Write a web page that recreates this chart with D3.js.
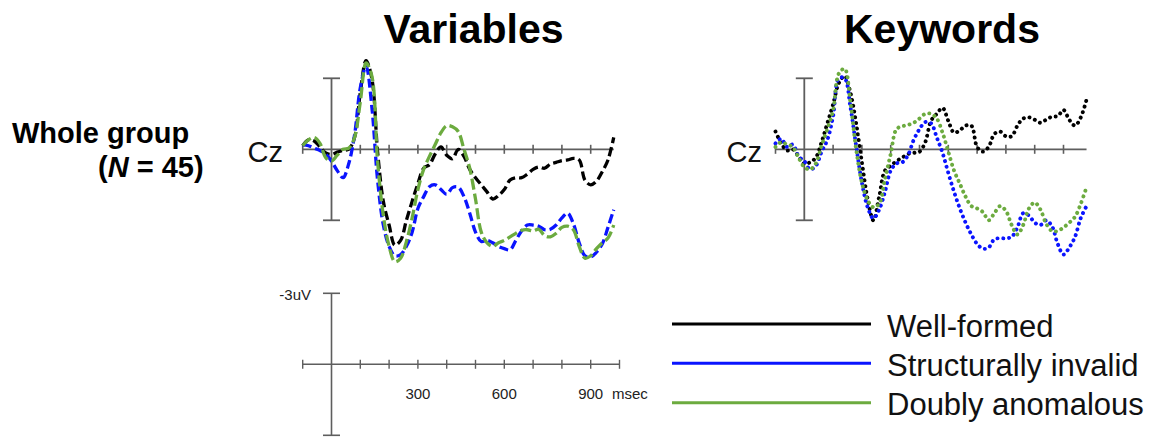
<!DOCTYPE html>
<html>
<head>
<meta charset="utf-8">
<script src="https://cdn.jsdelivr.net/npm/d3@7"></script>
<style>
  body { margin: 0; background: #fff; }
  svg { display: block; font-family: "Liberation Sans", Arial, sans-serif; }
</style>
</head>
<body>
<svg id="chart" width="1164" height="437"></svg>
<script>
// Sample times (ms) of the grand-average waveforms at electrode Cz
const times = [-100, -80, -60, -40, -20, 0, 20, 40, 60, 80,
  100, 120, 140, 160, 180, 200, 220, 240, 260, 280,
  300, 320, 340, 360, 380, 400, 420, 440, 460, 480,
  500, 520, 540, 560, 580, 600, 620, 640, 660, 680,
  700, 720, 740, 760, 780, 800, 820, 840, 860, 880,
  900, 920, 940, 960, 980];

// Amplitudes in microvolts (negative plotted up)
const variablesWellFormed = [-0.15, -0.4, -0.35, -0.1, 0.15, 0.22, 0.12, 0.05, 0.0, -0.5,
  -2.4, -3.75, -3.0, 0.1, 2.2, 3.2, 4.05, 3.85, 3.0, 2.2,
  1.45, 0.8, 0.65, 0.2, -0.1, 0.25, 0.4, 0.0, 0.3, 0.85,
  1.2, 1.5, 1.8, 2.1, 1.95, 1.7, 1.3, 1.2, 1.2, 1.05,
  0.85, 0.75, 0.8, 0.62, 0.55, 0.48, 0.45, 0.38, 0.45, 1.3,
  1.5, 1.35, 0.95, 0.45, -0.5];
const variablesInvalid = [-0.2, -0.15, -0.05, 0.05, 0.2, 0.5, 0.9, 1.2, 0.6, -0.6,
  -2.6, -3.5, -1.8, 1.3, 3.2, 4.1, 4.5, 4.45, 4.1, 3.5,
  2.5, 2.0, 1.58, 1.5, 1.7, 1.9, 1.62, 1.6, 2.0, 2.7,
  3.5, 3.9, 3.85, 3.95, 4.11, 4.2, 4.25, 3.85, 3.45, 3.2,
  3.2, 3.25, 3.4, 3.38, 3.2, 2.9, 2.7, 3.15, 3.95, 4.5,
  4.55, 4.35, 4.0, 3.3, 2.55];
const variablesDoubly = [-0.15, -0.4, -0.5, -0.25, 0.35, 0.5, 0.25, 0.0, -0.05, -0.5,
  -2.0, -3.65, -3.1, 0.5, 2.8, 4.1, 4.75, 4.6, 3.9, 2.9,
  1.7, 0.85, 0.3, -0.2, -0.7, -1.0, -0.95, -0.75, 0.0, 0.8,
  2.1, 3.5, 3.95, 4.1, 3.95, 3.85, 3.7, 3.55, 3.42, 3.4,
  3.45, 3.38, 3.65, 3.7, 3.55, 3.3, 3.25, 3.4, 4.1, 4.6,
  4.5, 4.2, 3.95, 3.75, 3.2];

const keywordsWellFormed = [-0.75, -0.25, 0.05, 0.0, 0.3, 0.62, 0.55, 0.35, -0.3, -1.1,
  -1.9, -2.8, -3.1, -2.4, -1.1, 0.55, 2.1, 3.0, 2.0, 0.9,
  0.7, 0.5, 0.35, 0.2, 0.15, 0.1, -0.3, -1.2, -1.5, -1.75,
  -1.2, -0.7, -0.8, -1.0, -1.0, -0.1, 0.1, -0.1, -0.65, -0.75,
  -0.55, -0.55, -1.0, -1.3, -1.35, -1.25, -1.12, -1.25, -1.38, -1.4,
  -1.66, -1.25, -1.0, -1.35, -2.1];
const keywordsInvalid = [-0.25, -0.45, -0.1, -0.2, 0.3, 0.5, 0.85, 0.7, 0.1, -0.4,
  -1.4, -3.0, -3.0, -1.8, -0.15, 1.4, 2.45, 2.92, 2.55, 1.8,
  0.9, 0.6, 0.55, 0.25, -0.4, -0.85, -1.15, -1.1, -0.5, 0.15,
  1.0, 1.8, 2.5, 3.1, 3.6, 4.0, 4.2, 4.15, 3.8, 3.76,
  3.76, 3.7, 3.3, 2.7, 2.8, 3.1, 3.2, 3.0, 3.25, 4.0,
  4.45, 4.15, 3.7, 2.9, 2.4];
const keywordsDoubly = [-0.1, -0.3, -0.2, -0.1, 0.35, 0.75, 0.85, 0.6, -0.15, -0.85,
  -1.65, -3.2, -3.4, -2.0, 0.0, 1.4, 2.15, 2.45, 2.3, 1.25,
  0.2, -0.85, -0.97, -1.03, -1.12, -1.3, -1.5, -1.5, -1.3, -0.7,
  0.1, 0.9, 1.45, 2.0, 2.4, 2.5, 2.65, 3.0, 2.7, 2.4,
  2.6, 3.2, 3.6, 3.2, 2.5, 2.25, 2.55, 3.15, 3.45, 3.45,
  3.3, 3.1, 2.85, 2.3, 1.6];

const conditionNames = ["Well-formed", "Structurally invalid", "Doubly anomalous"];
const conditionColors = ["#000000", "#0a14ff", "#6cab3f"];
const panelTitles = ["Variables", "Keywords"];
const axisTicks = [-100, 100, 200, 300, 400, 500, 600, 700, 800, 900];
const scaleTicks = [-100, 100, 200, 300, 400, 500, 600, 700, 800, 900, 1000];
const scaleTickLabels = [300, 600, 900];

const svg = d3.select("#chart");
const axisColor = "#5e5e5e";
const msPerPx = 0.288;       // px per ms
const uvHalf = 3;            // scale bar half height in µV

const panels = [
  { title: panelTitles[0], x0: 331.5, titleX: 473.5, czX: 283,
    series: [variablesWellFormed, variablesInvalid, variablesDoubly],
    dash: ["9 4", "9 4", "11 4"], cap: "butt", width: 3.3 },
  { title: panelTitles[1], x0: 804.3, titleX: 942, czX: 762,
    series: [keywordsWellFormed, keywordsInvalid, keywordsDoubly],
    dash: ["0.1 5.7", "0.1 5.7", "0.1 5.7"], cap: "round", width: 3.9 }
];

const y = d3.scaleLinear().domain([-uvHalf, uvHalf]).range([78.3, 220.3]);
const lastTime = times[times.length - 1];

panels.forEach(p => {
  const x = d3.scaleLinear().domain([0, 1000]).range([p.x0, p.x0 + 1000 * msPerPx]);
  const g = svg.append("g");

  // title
  g.append("text").attr("x", p.titleX).attr("y", 43)
    .attr("text-anchor", "middle").attr("font-weight", "bold")
    .attr("font-size", 41).attr("fill", "#000").text(p.title);

  // electrode label
  g.append("text").attr("x", p.czX).attr("y", 162)
    .attr("text-anchor", "end").attr("font-size", 29)
    .attr("fill", "#111").text("Cz");

  // time axis
  g.append("line").attr("x1", x(-100)).attr("x2", x(lastTime))
    .attr("y1", y(0)).attr("y2", y(0))
    .attr("stroke", axisColor).attr("stroke-width", 1.8);
  g.selectAll("line.tick").data(axisTicks).join("line")
    .attr("class", "tick")
    .attr("x1", d => x(d)).attr("x2", d => x(d))
    .attr("y1", y(0) - 4.5).attr("y2", y(0) + 4.5)
    .attr("stroke", axisColor).attr("stroke-width", 1.6);

  // amplitude bar with caps
  g.append("line").attr("x1", x(0)).attr("x2", x(0))
    .attr("y1", y(-uvHalf)).attr("y2", y(uvHalf))
    .attr("stroke", axisColor).attr("stroke-width", 1.8);
  [-uvHalf, uvHalf].forEach(v => {
    g.append("line").attr("x1", x(0) - 8.5).attr("x2", x(0) + 8.5)
      .attr("y1", y(v)).attr("y2", y(v))
      .attr("stroke", axisColor).attr("stroke-width", 1.8);
  });

  const line = d3.line()
    .x((d, i) => x(times[i]))
    .y(d => y(d))
    .curve(d3.curveCatmullRom.alpha(0.5));

  p.series.forEach((s, i) => {
    g.append("path").datum(s)
      .attr("d", line)
      .attr("fill", "none")
      .attr("stroke", conditionColors[i])
      .attr("stroke-width", p.width)
      .attr("stroke-linecap", p.cap)
      .attr("stroke-linejoin", "round")
      .attr("stroke-dasharray", p.dash[i]);
  });
});

// row label
svg.append("text").attr("x", 12).attr("y", 143)
  .attr("font-weight", "bold").attr("font-size", 29).attr("fill", "#000")
  .text("Whole group");
const nLabel = svg.append("text").attr("x", 98).attr("y", 177)
  .attr("font-weight", "bold").attr("font-size", 29).attr("fill", "#000");
nLabel.append("tspan").text("(");
nLabel.append("tspan").attr("font-style", "italic").text("N");
nLabel.append("tspan").text(" = 45)");

// calibration axes
const sx = d3.scaleLinear().domain([0, 1000]).range([331.5, 331.5 + 1000 * msPerPx]);
const sy = d3.scaleLinear().domain([-uvHalf, uvHalf]).range([293.3, 435.3]);
const cal = svg.append("g");
cal.append("line").attr("x1", sx(-100)).attr("x2", sx(1000))
  .attr("y1", sy(0)).attr("y2", sy(0))
  .attr("stroke", axisColor).attr("stroke-width", 1.6);
cal.selectAll("line.tick").data(scaleTicks).join("line")
  .attr("class", "tick")
  .attr("x1", d => sx(d)).attr("x2", d => sx(d))
  .attr("y1", sy(0) - 4.5).attr("y2", sy(0) + 4.5)
  .attr("stroke", axisColor).attr("stroke-width", 1.4);
cal.append("line").attr("x1", sx(0)).attr("x2", sx(0))
  .attr("y1", sy(-uvHalf)).attr("y2", sy(uvHalf))
  .attr("stroke", axisColor).attr("stroke-width", 1.6);
[-uvHalf, uvHalf].forEach(v => {
  cal.append("line").attr("x1", sx(0) - 8.5).attr("x2", sx(0) + 8.5)
    .attr("y1", sy(v)).attr("y2", sy(v))
    .attr("stroke", axisColor).attr("stroke-width", 1.6);
});
cal.append("text").attr("x", 311).attr("y", 300)
  .attr("text-anchor", "end").attr("font-size", 15).attr("fill", "#222")
  .text("-" + uvHalf + "uV");
cal.selectAll("text.tl").data(scaleTickLabels).join("text")
  .attr("class", "tl")
  .attr("x", d => sx(d)).attr("y", 399)
  .attr("text-anchor", "middle").attr("font-size", 15).attr("fill", "#222")
  .text(d => d);
cal.append("text").attr("x", 612).attr("y", 399)
  .attr("font-size", 15).attr("fill", "#222").text("msec");

// legend
const legendY = [324, 363.3, 402.7];
const legend = svg.append("g");
conditionNames.forEach((name, i) => {
  legend.append("line").attr("x1", 672).attr("x2", 871)
    .attr("y1", legendY[i]).attr("y2", legendY[i])
    .attr("stroke", conditionColors[i]).attr("stroke-width", 3);
  legend.append("text").attr("x", 887).attr("y", legendY[i] + 12.5)
    .attr("font-size", 31).attr("fill", "#111").text(name);
});
</script>
</body>
</html>
